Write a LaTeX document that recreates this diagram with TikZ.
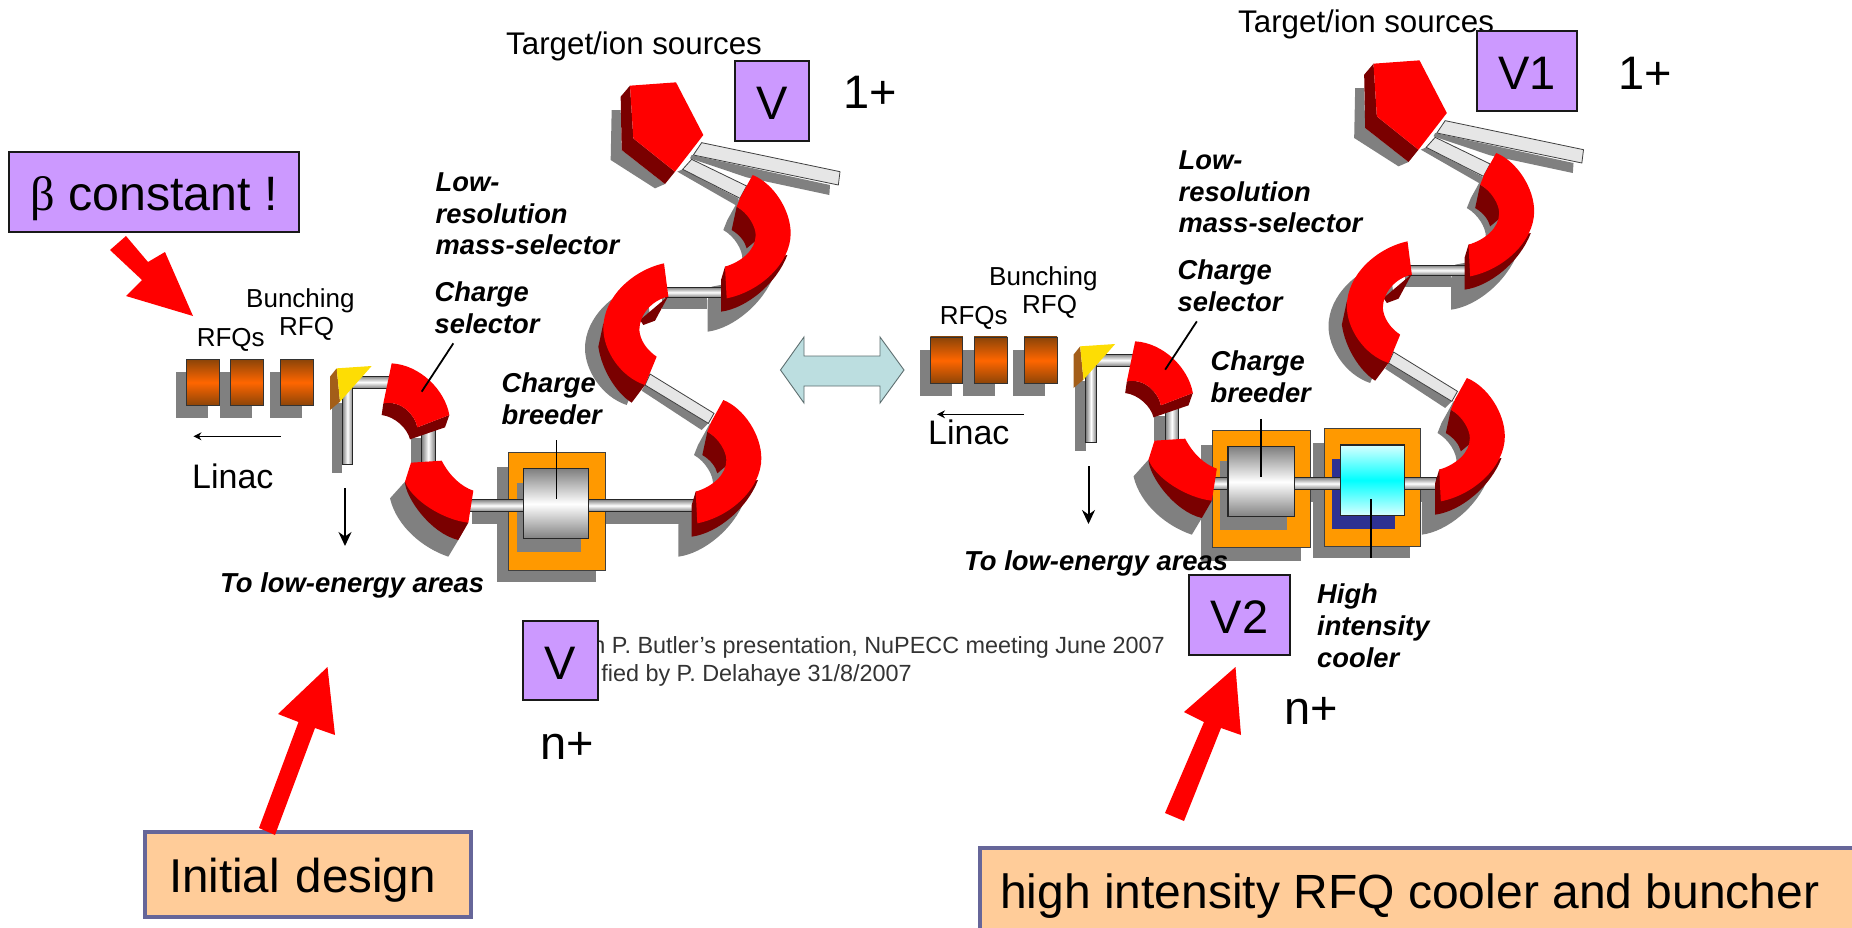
\documentclass[tikz,border=0pt]{standalone}
\usepackage{fontspec}
\usetikzlibrary{arrows.meta}
\setmainfont{Liberation Sans}
\newfontfamily\greekf{Liberation Serif}
\newcommand\pxf[1]{\fontsize{#1}{#1}\selectfont}
\newcommand\pxl[2]{\fontsize{#1}{#2}\selectfont}
\definecolor{redc}{HTML}{FF0000}
\definecolor{darkc}{HTML}{7A0000}
\definecolor{shadowc}{HTML}{808080}
\definecolor{purp}{HTML}{CC99FF}
\definecolor{peach}{HTML}{FFCC99}
\definecolor{slateb}{HTML}{666699}
\definecolor{orangeb}{HTML}{FF9900}
\definecolor{pipec}{HTML}{E6E6E6}
\definecolor{rfqd}{HTML}{8A4408}
\definecolor{rfqm}{HTML}{FF6600}
\definecolor{tealc}{HTML}{BCDEE0}
\definecolor{indigoc}{HTML}{2E3192}
\tikzset{
  frameA/.style={shift={(160,0)},xscale=1/2.24,yscale=1/2.613},
  frameOne/.style={shift={(590,70)},scale=1/3},
  frameTwo/.style={shift={(590,250)},scale=1/3},
  frameThree/.style={shift={(330,340)},scale=1/3},
  purplebox/.style={draw=black!90,line width=1.5pt,fill=purp,inner sep=0pt,font=\pxf{47},text height=37pt,text depth=0pt},
  bigtxt/.style={inner sep=0pt,font=\pxf{47}},
  thintxt/.style={inner sep=0pt,anchor=base west,font=\pxf{26}},
  boldtxt/.style={inner sep=0pt,anchor=north west,align=left,font=\pxl{27.3}{31.6}\bfseries\itshape},
  boldline/.style={inner sep=0pt,anchor=base west,font=\pxf{27.4}\bfseries\itshape},
  redarrow/.style={fill=redc},
  hpipe/.style={top color=shadowc,bottom color=shadowc,middle color=white,draw=black!85,line width=1pt},
  vpipe/.style={left color=shadowc,right color=shadowc,middle color=white,draw=black!85,line width=1pt},
  dpipe/.style={fill=pipec,draw=black!75,line width=0.8pt},
  leader/.style={draw=black,line width=1.8pt},
  rfqbox/.style={top color=rfqd,bottom color=rfqd,middle color=rfqm,draw=black!80,line width=0.8pt},
  boxo/.style={fill=orangeb,draw=black!75,line width=0.8pt},
  cylbox/.style={top color=shadowc,bottom color=shadowc,middle color=white,draw=black!85,line width=1.2pt},
  coolbox/.style={top color=white!85!cyan,bottom color=white!85!cyan,middle color=cyan,draw=black!85,line width=1.2pt},
}
% bends, drawn in the frames of the close-up crops
\def\frontOne{(488,315) .. controls (550,340) and (602,420) .. (602,490) .. controls (602,580) and (510,665) .. (410,685) -- (405,590) .. controls (455,575) and (497,540) .. (497,495) .. controls (497,470) and (475,430) .. (440,410) -- (452,380) -- cycle}
\def\darkOneOut{(405,590) -- (393,630) -- (393,725) .. controls (470,715) and (560,640) .. (592,555) -- cycle}
\def\darkOneIn{(440,410) -- (425,480) .. controls (450,495) and (465,515) .. (470,535) -- (500,510) -- (500,450) -- cycle}
\def\frontTwo{(222,40) -- (235,140) .. controls (185,150) and (148,195) .. (148,240) .. controls (150,270) and (170,300) .. (200,320) -- (165,405) .. controls (90,380) and (40,300) .. (40,235) .. controls (40,140) and (130,60) .. (222,40) -- cycle}
\def\darkTwoOut{(40,220) -- (25,290) .. controls (35,360) and (80,430) .. (125,458) -- (165,405) -- cycle}
\def\darkTwoIn{(235,138) -- (150,210) -- (160,225) -- (195,212) -- (215,175) -- cycle}
\def\frontFour{(185,70) .. controls (270,75) and (345,150) .. (358,225) -- (262,262) .. controls (255,225) and (215,180) .. (160,190) -- cycle}
\def\darkFour{(160,190) -- (155,225) .. controls (195,230) and (232,265) .. (240,298) -- (345,262) -- (358,225) -- (262,262) .. controls (255,225) and (215,180) .. (160,190) -- cycle}
\def\frontFive{(243,368) -- (335,362) .. controls (360,410) and (395,440) .. (430,452) -- (415,548) .. controls (340,540) and (245,480) .. (225,425) -- cycle}
\def\darkFive{(225,425) .. controls (225,470) and (300,580) .. (385,600) -- (415,548) -- cycle}
\def\bendOneShadow{\fill[shadowc,shift={(-40,70)}] \frontOne; \fill[shadowc,shift={(-40,60)}] \darkOneOut;}
\def\bendOneSolid{\fill[darkc] \darkOneOut; \fill[darkc] \darkOneIn; \fill[redc] \frontOne;}
% #1 drawn before the long pipe, #2 after it
\newcommand\beamline[2]{%
  \begin{scope}[frameOne]
    \fill[shadowc] (92,120) -- (65,120) -- (62,270) -- (195,355) -- (225,342) -- (95,240) -- cycle;
    \fill[shadowc] (305,255) -- (720,345) -- (718,375) -- (470,322) -- (300,265) -- cycle;
    \fill[shadowc] (278,298) -- (445,385) -- (445,410) -- (262,305) -- cycle;
    \bendOneShadow
    \begin{scope}[shift={(-88,675)}]\bendOneShadow\end{scope}
    \fill[shadowc] (215,685) rectangle (352,718);
    \path[hpipe] (225,652) rectangle (405,682);
    \path[dpipe] (335,218) -- (750,305) -- (745,345) -- (310,255) -- cycle;
    \path[dpipe] (305,268) -- (470,348) -- (450,385) -- (278,298) -- cycle;
  \end{scope}
  \begin{scope}[frameTwo]
    \fill[shadowc,shift={(-55,60)}] \frontTwo;
    \fill[shadowc] (165,405) -- (155,422) -- (335,540) -- (355,520) -- cycle;
    \path[dpipe] (180,372) -- (372,490) -- (355,520) -- (165,405) -- cycle;
  \end{scope}
  \begin{scope}[frameThree]
    \fill[shadowc] (180,475) .. controls (200,560) and (280,625) .. (355,650) -- (385,600) -- (225,425) -- cycle;
    \fill[shadowc] (242,295) rectangle (275,368);
    \fill[shadowc] (5,190) rectangle (37,400);
  \end{scope}
  \begin{scope}[frameA]
    \fill[shadowc] (700,1337) rectangle (1170,1368);
    \fill[shadowc] (36,972) rectangle (108,1092);
    \fill[shadowc] (134,972) rectangle (205,1092);
    \fill[shadowc] (246,972) rectangle (318,1092);
    #1
    \path[hpipe] (690,1305) rectangle (1195,1337);
    #2
    \path[rfqbox] (60,938) rectangle (133,1060);
    \path[rfqbox] (158,938) rectangle (232,1060);
    \path[rfqbox] (270,938) rectangle (344,1060);
    \draw[-{Stealth[length=8pt,width=8pt]},line width=1.2pt] (270,1140) -- (75,1140);
  \end{scope}
  \begin{scope}[frameThree]
    \path[vpipe] (275,260) rectangle (315,372);
    \path[hpipe] (60,108) rectangle (180,145);
    \path[vpipe] (37,130) rectangle (68,372);
    \fill[orange!60!black!90] (0,110) -- (20,85) -- (30,185) -- (0,210) -- cycle;
    \fill[yellow!80!orange] (20,85) -- (125,78) -- (30,185) -- cycle;
    \fill[darkc] \darkFour; \fill[redc] \frontFour;
    \fill[darkc] \darkFive; \fill[redc] \frontFive;
    \draw[leader] (370,10) -- (275,155);
    \draw[-{Stealth[length=14pt,width=13pt]},line width=2pt] (45,445) -- (45,618);
  \end{scope}
  \begin{scope}[frameOne]
    \fill[darkc] (92,80) -- (120,47) -- (130,205) -- (255,305) -- (225,342) -- (95,240) -- cycle;
    \fill[redc] (120,47) -- (258,37) -- (340,195) -- (255,305) -- (130,205) -- cycle;
    \bendOneSolid
    \begin{scope}[shift={(-88,675)}]\bendOneSolid\end{scope}
  \end{scope}
  \begin{scope}[frameTwo]
    \fill[darkc] \darkTwoOut; \fill[darkc] \darkTwoIn; \fill[redc] \frontTwo;
  \end{scope}
}
\begin{document}
\begin{tikzpicture}[x=1pt,y=-1pt]
\useasboundingbox (0,0) rectangle (1852,927);
\fill[white] (0,0) rectangle (1852,927);
% text behind the left beam line
\node[boldtxt] (lbreeder) at (501.5,373) {Charge\\breeder};
% left beam line
\beamline{%
  \fill[shadowc] (756,1220) rectangle (977,1520);
  \path[boxo] (780,1183) rectangle (997,1490);
  \fill[shadowc] (800,1262) rectangle (942,1442);
}{%
  \path[cylbox] (815,1225) rectangle (960,1408);
  \draw[leader] (888,1150) -- (888,1305);
}
% right beam line
\begin{scope}[shift={(743.5,-22)}]
\beamline{%
  \fill[shadowc] (667,1220) rectangle (891,1522);
  \fill[shadowc] (918,1214) rectangle (1134,1515);
  \path[boxo] (691,1183) rectangle (911,1488);
  \path[boxo] (942,1177) rectangle (1158,1485);
  \fill[shadowc] (709,1262) rectangle (858,1442);
  \fill[indigoc] (960,1257) rectangle (1101,1439);
}{%
  \path[cylbox] (727,1225) rectangle (875,1408);
  \path[coolbox] (978,1220) rectangle (1122,1404);
  \draw[leader] (801,1152) -- (801,1305);
  \draw[leader] (1048,1362) -- (1048,1515);
}
\end{scope}
% double arrow
\path[fill=tealc,draw=black!50!tealc,line width=0.9pt] (780.5,370) -- (804,337) -- (804,356) -- (880,356) -- (880,337) -- (904,370) -- (880,403) -- (880,386) -- (804,386) -- (804,403) -- cycle;
% left labels
\node[inner sep=0pt,anchor=base west,font=\pxf{31.3}] (ltarget) at (506,54) {Target/ion sources};
\node[boldtxt] (lmass) at (435.5,172.5) {Low-\\resolution\\mass-selector};
\node[boldtxt] (lsel) at (434.5,282) {Charge\\selector};
\node[thintxt] (lbunch) at (246,307) {Bunching};
\node[thintxt] (lrfq) at (279,335) {RFQ};
\node[thintxt] (lrfqs) at (196.6,346) {RFQs};
\node[inner sep=0pt,anchor=base west,font=\pxf{34}] (llinac) at (192,488) {Linac};
\node[boldline] (llow) at (220,592) {To low-energy areas};
% right labels
\node[inner sep=0pt,anchor=base west,font=\pxf{31.3}] (rtarget) at (1238,32) {Target/ion sources};
\node[boldtxt] (rmass) at (1178.5,150.5) {Low-\\resolution\\mass-selector};
\node[boldtxt] (rsel) at (1177.5,260) {Charge\\selector};
\node[boldtxt] (rbreeder) at (1210.5,351) {Charge\\breeder};
\node[thintxt] (rbunch) at (989,285) {Bunching};
\node[thintxt] (rrfq) at (1022,313) {RFQ};
\node[thintxt] (rrfqs) at (939.6,324) {RFQs};
\node[inner sep=0pt,anchor=base west,font=\pxf{34}] (rlinac) at (928,444) {Linac};
\node[boldline] (rlow) at (964,570) {To low-energy areas};
\node[boldtxt] (rcool) at (1317,584) {High\\intensity\\cooler};
% credit lines
\node[inner sep=0pt,anchor=base east,font=\pxf{23.4},text=black!80] (credita) at (1165,653) {n P. Butler's presentation, NuPECC meeting June 2007};
\node[inner sep=0pt,anchor=base east,font=\pxf{23.4},text=black!80] (creditb) at (912,681) {fied by P. Delahaye 31/8/2007};
% value boxes
\node[purplebox,minimum width=74pt,minimum height=80pt] (vtop) at (772,101) {V};
\node[bigtxt] (oneplusl) at (870,92) {1+};
\node[purplebox,minimum width=75pt,minimum height=79pt] (vbot) at (560.5,660.5) {V};
\node[bigtxt] (nplusl) at (567,746) {n+};
\node[purplebox,minimum width=100pt,minimum height=80pt] (vone) at (1527,71) {V1};
\node[bigtxt] (oneplusr) at (1645,73) {1+};
\node[purplebox,minimum width=101pt,minimum height=80pt] (vtwo) at (1239.5,615) {V2};
\node[bigtxt] (nplusr) at (1311,711) {n+};
\node[purplebox,minimum width=290pt,minimum height=80pt,font=\pxf{48.3}] (beta) at (154,192) {{\greekf β} constant !};
% captions
\node[draw=slateb,line width=4pt,fill=peach,inner ysep=0pt,inner xsep=24pt,text width=278pt,align=left,minimum height=85pt,font=\pxf{47.5},text height=37pt,text depth=0pt] (initial) at (308,874) {Initial design};
\draw[slateb,line width=4pt,fill=peach] (980,848) rectangle (1860,940);
\node[bigtxt,font=\pxf{48},anchor=base west] (high) at (1000,908) {high intensity RFQ cooler and buncher};
% red arrows
\path[redarrow] (110,250) -- (126,236) -- (148,262) -- (165,252) -- (193,316) -- (126,296) -- (142,280) -- cycle;
\path[redarrow] (259,828) -- (298.5,722) -- (278,714) -- (327.5,667) -- (335,735) -- (315,728) -- (275,835) -- cycle;
\path[redarrow] (1165,813) -- (1204,722) -- (1184,712) -- (1235.5,667) -- (1241,735) -- (1221,728) -- (1184,821) -- cycle;
\end{tikzpicture}
\end{document}
